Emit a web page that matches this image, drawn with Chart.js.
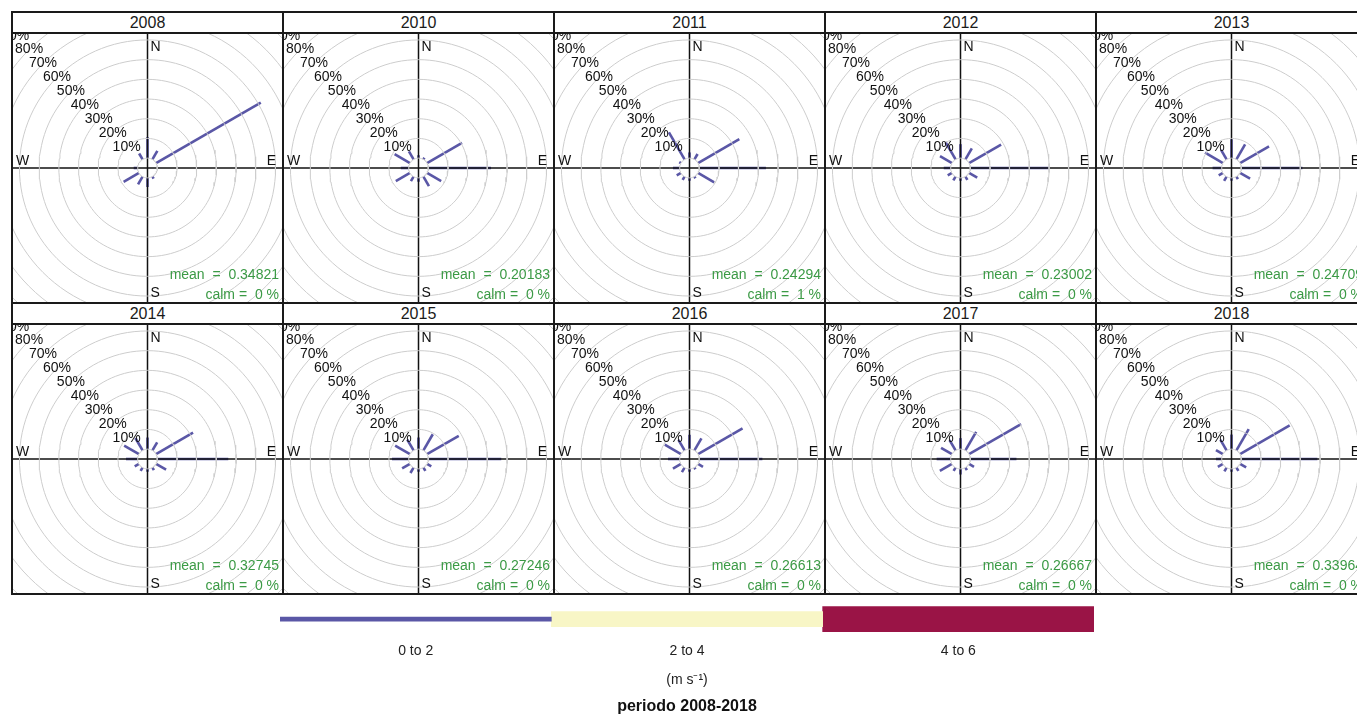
<!DOCTYPE html>
<html>
<head>
<meta charset="utf-8">
<script src="https://cdn.jsdelivr.net/npm/chart.js@4.4.1/dist/chart.umd.min.js"></script>
<style>
    body {
        margin: 0;
        background: #fff;
        width: 1357px;
        height: 723px;
        overflow: hidden;
        position: relative;
        font-family: "Liberation Sans", Arial, sans-serif;
    }
    .panel {
        position: absolute;
        width: 273px;
        height: 293px;
        box-sizing: border-box;
        border: 2px solid #1a1a1a;
        background: #fff;
    }
    .strip {
        position: absolute;
        left: 0;
        top: 0;
        width: 100%;
        height: 19px;
        border-bottom: 2px solid #1a1a1a;
        text-align: center;
        font-size: 16px;
        line-height: 20px;
        color: #1a1a1a;
    }
    .panel canvas {
        position: absolute;
        left: 0;
        top: 21px;
    }
    #leyenda {
        position: absolute;
        left: 280px;
        top: 605px;
    }
</style>
</head>
<body>
<div id="paneles"></div>
<canvas id="leyenda" width="814" height="115"></canvas>

<script>
// años de cada panel
const anios = ["2008", "2010", "2011", "2012", "2013", "2014", "2015", "2016", "2017", "2018"];

// direcciones (grados desde el norte)
const direcciones = [0, 30, 60, 90, 120, 150, 180, 210, 240, 270, 300, 330];

// frecuencia (%) por dirección, velocidad 0 a 2
const frec2008 = [10.7, 5.0, 61.4, 0, 0, 1.2, 4.6, 4.6, 9.0, 2.0, 0, 3.5];
const frec2010 = [1.5, 1.0, 20.5, 31.8, 8.3, 5.6, 2.0, 2.7, 8.3, 4.0, 9.0, 4.7];
const frec2011 = [2.9, 3.2, 24.2, 33.8, 9.5, 1.0, 1.5, 2.0, 2.5, 3.4, 1.0, 15.9];
const frec2012 = [7.1, 6.5, 18.8, 40.3, 4.8, 2.0, 1.5, 2.3, 2.5, 3.5, 7.0, 10.2];
const frec2013 = [9.6, 8.8, 17.0, 31.0, 5.9, 1.5, 1.5, 2.5, 2.5, 4.6, 10.5, 5.6];
const frec2014 = [5.9, 4.8, 21.7, 36.0, 5.9, 1.5, 1.5, 2.0, 2.5, 5.9, 8.7, 7.3];
const frec2015 = [5.9, 9.5, 18.6, 37.0, 2.5, 2.0, 1.5, 3.2, 4.6, 8.5, 8.7, 6.4];
const frec2016 = [7.3, 7.1, 26.1, 32.0, 2.9, 1.0, 1.5, 2.7, 4.7, 5.9, 9.5, 6.2];
const frec2017 = [5.6, 10.9, 30.5, 23.4, 2.9, 1.5, 2.9, 2.0, 7.1, 7.1, 6.4, 6.1];
const frec2018 = [7.4, 12.5, 29.1, 38.6, 3.6, 2.0, 1.5, 2.2, 3.0, 2.9, 4.1, 6.2];

const frecuencias = [frec2008, frec2010, frec2011, frec2012, frec2013,
                     frec2014, frec2015, frec2016, frec2017, frec2018];

const medias = ["0.34821", "0.20183", "0.24294", "0.23002", "0.24709",
                "0.32745", "0.27246", "0.26613", "0.26667", "0.33964"];
const calmas = ["0", "0", "1", "0", "0", "0", "0", "0", "0", "0"];

// círculos de la grilla (%)
const grillaPorcentajes = [10, 20, 30, 40, 50, 60, 70, 80, 90];

// clases de velocidad
const clasesVelocidad = ["0 to 2", "2 to 4", "4 to 6"];
const limitesVelocidad = [[0, 2], [2, 4], [4, 6]];

const colores = ["#5a57a6", "#f8f6c6", "#9a1446"];
const grosorLeyenda = [4, 15, 25];

const PX_POR_UNIDAD = 1.97;
const DESPLAZAMIENTO = 5;

Chart.defaults.font.family = "'Liberation Sans', Arial, sans-serif";

function polar(r, grados) {
    const a = grados * Math.PI / 180;
    return { x: r * Math.sin(a), y: r * Math.cos(a) };
}

function circulo(r) {
    const puntos = [];
    for (let g = 0; g <= 360; g += 3) puntos.push(polar(r, g));
    return puntos;
}

function crearPaneles() {
    const contenedor = document.getElementById("paneles");

    anios.forEach((anio, i) => {
        const col = i % 5;
        const fila = Math.floor(i / 5);

        const panel = document.createElement("div");
        panel.className = "panel";
        panel.style.left = (11 + col * 271) + "px";
        panel.style.top = (11 + fila * 291) + "px";

        const strip = document.createElement("div");
        strip.className = "strip";
        strip.textContent = anio;
        panel.appendChild(strip);

        const canvas = document.createElement("canvas");
        canvas.width = 269;
        canvas.height = 268;
        panel.appendChild(canvas);

        contenedor.appendChild(panel);
        crearRosa(canvas, i);
    });
}

function crearRosa(canvas, i) {
    const limX = canvas.width / 2 / PX_POR_UNIDAD;
    const limY = canvas.height / 2 / PX_POR_UNIDAD;

    const datasets = [];

    [0, ...grillaPorcentajes].forEach(p => {
        datasets.push({
            data: circulo(DESPLAZAMIENTO + p),
            borderColor: "#cdcdcd",
            borderWidth: 1,
            showLine: true,
            pointRadius: 0
        });
    });

    datasets.push({
        data: [{ x: -limX, y: 0 }, { x: limX, y: 0 }],
        borderColor: "#111",
        borderWidth: 1.5,
        showLine: true,
        pointRadius: 0
    });
    datasets.push({
        data: [{ x: 0, y: -limY }, { x: 0, y: limY }],
        borderColor: "#111",
        borderWidth: 1.5,
        showLine: true,
        pointRadius: 0
    });

    direcciones.forEach((dir, j) => {
        const f = frecuencias[i][j];
        if (!f) return;
        datasets.push({
            data: [polar(DESPLAZAMIENTO, dir), polar(DESPLAZAMIENTO + f, dir)],
            borderColor: colores[0],
            borderWidth: 2.6,
            borderCapStyle: "butt",
            showLine: true,
            pointRadius: 0
        });
    });

    const textos = {
        id: "textos",
        afterDatasetsDraw(chart) {
            const { ctx, chartArea, scales: { x, y } } = chart;
            const cx = x.getPixelForValue(0);
            const cy = y.getPixelForValue(0);

            ctx.save();
            ctx.beginPath();
            ctx.rect(chartArea.left, chartArea.top, chartArea.width, chartArea.height);
            ctx.clip();

            ctx.fillStyle = "#111";
            ctx.font = "14px 'Liberation Sans', Arial";
            ctx.textAlign = "center";
            ctx.textBaseline = "middle";

            grillaPorcentajes.forEach(p => {
                const pos = polar(DESPLAZAMIENTO + p, -45);
                ctx.fillText(p + "%", x.getPixelForValue(pos.x), y.getPixelForValue(pos.y));
            });

            ctx.textAlign = "left";
            ctx.fillText("N", cx + 3, chartArea.top + 13);
            ctx.fillText("S", cx + 3, chartArea.bottom - 9);
            ctx.fillText("W", chartArea.left + 3, cy - 7);
            ctx.textAlign = "right";
            ctx.fillText("E", chartArea.right - 6, cy - 7);

            ctx.fillStyle = "#3b9a45";
            ctx.fillText("mean  =  " + medias[i], chartArea.right - 3, cy + 107);
            ctx.fillText("calm =  " + calmas[i] + " %", chartArea.right - 3, cy + 127);

            ctx.restore();
        }
    };

    new Chart(canvas, {
        type: "scatter",
        data: { datasets },
        options: {
            responsive: false,
            animation: false,
            events: [],
            layout: { padding: 0 },
            scales: {
                x: { type: "linear", display: false, min: -limX, max: limX },
                y: { type: "linear", display: false, min: -limY, max: limY }
            },
            plugins: {
                legend: { display: false },
                tooltip: { enabled: false }
            }
        },
        plugins: [textos]
    });
}

function crearLeyenda() {
    const fuenteEstrecha = "'Liberation Sans Narrow', 'Liberation Sans', Arial, sans-serif";

    new Chart(document.getElementById("leyenda"), {
        type: "bar",
        data: {
            labels: ["velocidad"],
            datasets: clasesVelocidad.map((clase, i) => ({
                label: clase,
                data: [limitesVelocidad[i]],
                backgroundColor: colores[i],
                barThickness: grosorLeyenda[i],
                grouped: false
            }))
        },
        options: {
            indexAxis: "y",
            responsive: false,
            animation: false,
            events: [],
            layout: { padding: 0 },
            scales: {
                x: {
                    min: 0,
                    max: 6,
                    grid: { display: false, drawTicks: false },
                    border: { display: false },
                    afterBuildTicks: escala => {
                        escala.ticks = limitesVelocidad.map(l => ({ value: (l[0] + l[1]) / 2 }));
                    },
                    ticks: {
                        callback: (valor, indice) => clasesVelocidad[indice],
                        font: { size: 14, family: fuenteEstrecha },
                        color: "#222",
                        padding: 9,
                        maxRotation: 0,
                        autoSkip: false
                    },
                    title: {
                        display: true,
                        text: "(m s⁻¹)",
                        font: { size: 14, family: fuenteEstrecha },
                        color: "#222",
                        padding: { top: 15, bottom: 2 }
                    }
                },
                y: { display: false }
            },
            plugins: {
                legend: { display: false },
                tooltip: { enabled: false },
                title: {
                    display: true,
                    position: "bottom",
                    text: "periodo 2008-2018",
                    font: { size: 16, weight: "bold", family: fuenteEstrecha },
                    color: "#111",
                    padding: { top: 6, bottom: 4 }
                }
            }
        }
    });
}

crearPaneles();
crearLeyenda();
</script>
</body>
</html>
